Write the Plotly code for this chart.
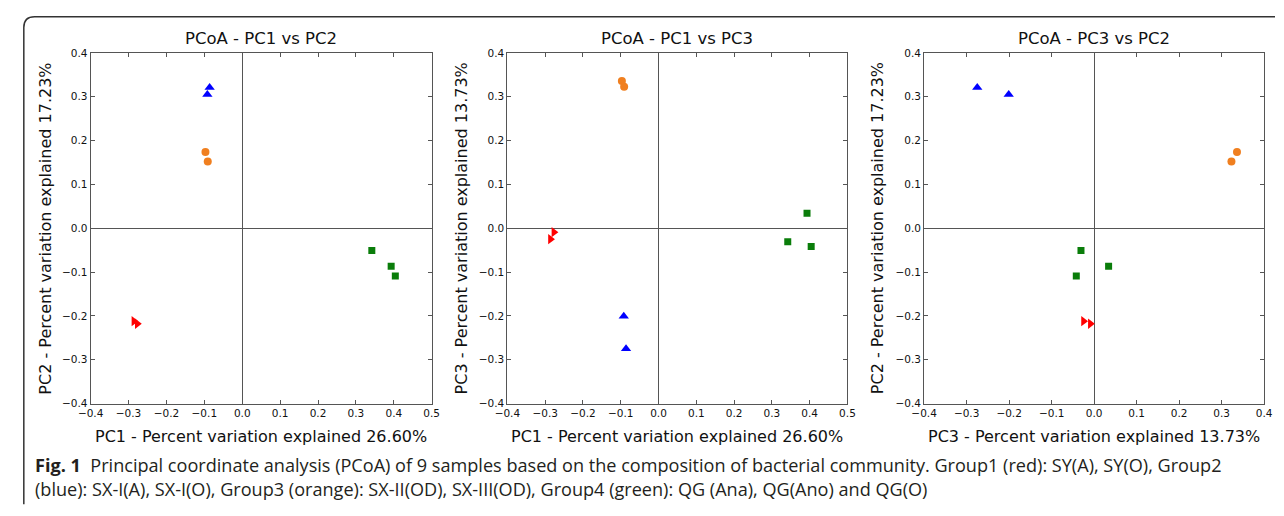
import plotly.graph_objects as go

# ---------------- data (PCoA coordinates) ----------------
group_names = ["Group1", "Group2", "Group3", "Group4"]
group_colors = ["#ff0000", "#0000ff", "#f07f1f", "#0a7d0a"]
group_symbols = ["triangle-right", "triangle-up", "circle", "square"]
group_sizes = [9, 9, 8, 7]

g1_pc1 = [-0.286, -0.277]
g1_pc2 = [-0.212, -0.218]
g1_pc3 = [-0.025, -0.009]

g2_pc1 = [-0.086, -0.092]
g2_pc2 = [0.321, 0.305]
g2_pc3 = [-0.275, -0.201]

g3_pc1 = [-0.097, -0.091]
g3_pc2 = [0.174, 0.152]
g3_pc3 = [0.336, 0.323]

g4_pc1 = [0.342, 0.393, 0.404]
g4_pc2 = [-0.051, -0.087, -0.109]
g4_pc3 = [-0.031, 0.034, -0.042]

pc1 = [g1_pc1, g2_pc1, g3_pc1, g4_pc1]
pc2 = [g1_pc2, g2_pc2, g3_pc2, g4_pc2]
pc3 = [g1_pc3, g2_pc3, g3_pc3, g4_pc3]

panel_titles = ["PCoA - PC1 vs PC2", "PCoA - PC1 vs PC3", "PCoA - PC3 vs PC2"]
x_titles = ["PC1 - Percent variation explained 26.60%",
            "PC1 - Percent variation explained 26.60%",
            "PC3 - Percent variation explained 13.73%"]
y_titles = ["PC2 - Percent variation explained 17.23%",
            "PC3 - Percent variation explained 13.73%",
            "PC2 - Percent variation explained 17.23%"]
x_ranges = [[-0.4, 0.5], [-0.4, 0.5], [-0.4, 0.4]]
y_ranges = [[-0.4, 0.4], [-0.4, 0.4], [-0.4, 0.4]]
panel_xy = [(pc1, pc2), (pc1, pc3), (pc3, pc2)]

caption_line1 = ("<b>Fig. 1</b>\u00a0\u00a0Principal coordinate analysis (PCoA) of 9 samples based on the "
                 "composition of bacterial community. Group1 (red): SY(A), SY(O), Group2")
caption_line2 = ("(blue): SX-I(A), SX-I(O), Group3 (orange): SX-II(OD), SX-III(OD), "
                 "Group4 (green): QG (Ana), QG(Ano) and QG(O)")

# ---------------- layout helpers ----------------
W, H = 1284, 516


def px(x):
    return x / W


def py(y):
    return 1 - y / H


plot_left = [79, 503, 927]
plot_right = [426, 849, 1273]
plot_top, plot_bottom = 48, 407
ytitle_x = [33, 456, 879]

fig = go.Figure()

AX_FONT = "DejaVu Sans"
annotations = []
layout_axes = {}
for i in range(3):
    sx = "" if i == 0 else str(i + 1)
    xs, ys = panel_xy[i]
    for g in range(4):
        fig.add_trace(go.Scatter(
            x=xs[g], y=ys[g], mode="markers",
            marker=dict(symbol=group_symbols[g], color=group_colors[g],
                        size=group_sizes[g], line=dict(width=0)),
            name=group_names[g], showlegend=False,
            xaxis="x" + sx, yaxis="y" + sx,
        ))
    common = dict(
        showgrid=False, zeroline=True, zerolinecolor="#555555", zerolinewidth=1,
        showline=True, linecolor="#555555", linewidth=1, mirror="ticks",
        ticks="inside", ticklen=4, tickwidth=1, tickcolor="#555555",
        dtick=0.1, tickformat=".1f",
        tickfont=dict(family=AX_FONT, size=10.5, color="#111111"),
        fixedrange=True,
    )
    layout_axes["xaxis" + sx] = dict(
        common, domain=[px(plot_left[i]), px(plot_right[i])],
        range=x_ranges[i], tick0=-0.4, anchor="y" + sx,
    )
    layout_axes["yaxis" + sx] = dict(
        common, domain=[py(plot_bottom), py(plot_top)],
        range=y_ranges[i], tick0=-0.4, anchor="x" + sx,
    )
    cx = (plot_left[i] + plot_right[i]) / 2
    annotations.append(dict(
        text=panel_titles[i], x=px(cx), y=py(33), xref="paper", yref="paper",
        xanchor="center", yanchor="middle", showarrow=False,
        font=dict(family=AX_FONT, size=16.5, color="#111111"),
    ))
    annotations.append(dict(
        text=x_titles[i], x=px(cx), y=py(441), xref="paper", yref="paper",
        xanchor="center", yanchor="middle", showarrow=False,
        font=dict(family=AX_FONT, size=16, color="#111111"),
    ))
    annotations.append(dict(
        text=y_titles[i], x=px(ytitle_x[i]), y=py((plot_top + plot_bottom) / 2),
        xref="paper", yref="paper", textangle=-90,
        xanchor="center", yanchor="middle", showarrow=False,
        font=dict(family=AX_FONT, size=16, color="#111111"),
    ))

CAP_FONT = dict(family="Open Sans", size=18.1, color="#231f20")
annotations.append(dict(
    text=caption_line1, x=px(20), y=py(470), xref="paper", yref="paper",
    xanchor="left", yanchor="middle", showarrow=False, font=CAP_FONT,
))
annotations.append(dict(
    text=caption_line2, x=px(20), y=py(495), xref="paper", yref="paper",
    xanchor="left", yanchor="middle", showarrow=False, font=CAP_FONT,
))

# rounded frame (top and left edges)
frame_path = (f"M {px(11)},{py(510)} L {px(11)},{py(22)} "
              f"Q {px(11)},{py(11)} {px(22)},{py(11)} L {px(1284)},{py(11)}")

fig.update_layout(
    width=W, height=H,
    margin=dict(l=0, r=0, t=0, b=0),
    paper_bgcolor="white", plot_bgcolor="white",
    showlegend=False,
    annotations=annotations,
    shapes=[dict(type="path", path=frame_path, xref="paper", yref="paper",
                 line=dict(color="#333333", width=1.5))],
    **layout_axes,
)

fig.write_html(
    "out.html",
    config={"displayModeBar": False},
    post_script="document.body.style.margin='0';",
)
